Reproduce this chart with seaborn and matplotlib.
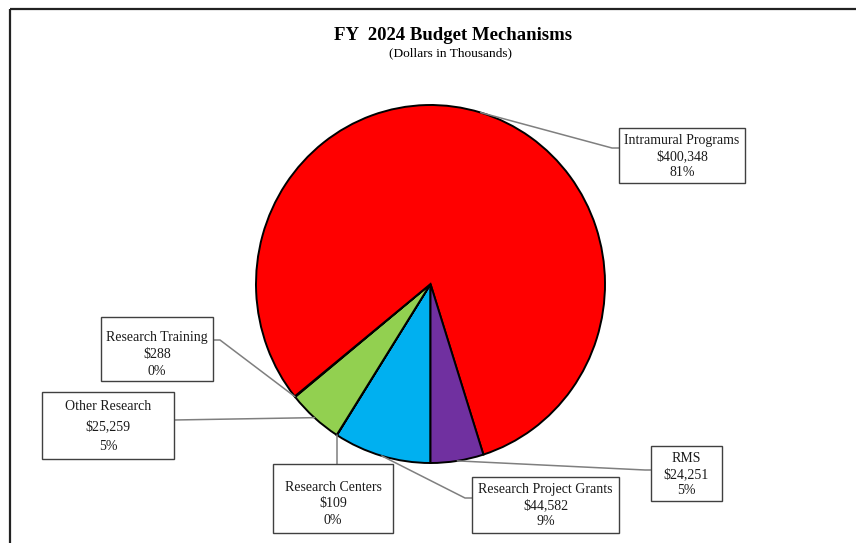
import numpy as np
import matplotlib
matplotlib.use("Agg")
import matplotlib.pyplot as plt
import seaborn as sns

# ---- data ----
categories = ["Research Project Grants", "Research Centers", "Other Research",
              "Research Training", "Intramural Programs", "RMS"]
values = [44582, 109, 25259, 288, 400348, 24251]
value_labels = ["$44,582", "$109", "$25,259", "$288", "$400,348", "$24,251"]
pct_labels = ["9%", "0%", "5%", "0%", "81%", "5%"]
colors = ["#00B0F0", "#FFFFFF", "#92D050", "#FFFFFF", "#FF0000", "#7030A0"]

sns.set_theme(style="white")
plt.rcParams['font.family'] = ['Liberation Serif', 'DejaVu Serif']

W, H = 856, 543
K = 179.0 / 174.5          # slight vertical stretch of the pie (as in the reference)
fig = plt.figure(figsize=(W / 100, H / 100), dpi=100)
ax = fig.add_axes([0, 0, 1, 1])

def Y(y):
    return (H - y) / K

cx, cy, R = 430.5, 284, 174.5
wedges, _ = ax.pie(values, colors=colors, startangle=270, counterclock=False,
                   center=(cx, Y(cy)), radius=R, frame=True,
                   wedgeprops=dict(edgecolor="black", linewidth=1.4))
ax.set_xlim(0, W)
ax.set_ylim(0, H / K)
ax.set_aspect("auto")
ax.axis("off")

# frame lines
ax.plot([10, 10], [Y(8.5), Y(543)], color="#222222", lw=1.6, solid_capstyle="butt")
ax.plot([10, 856], [Y(8.5), Y(8.5)], color="#222222", lw=1.6, solid_capstyle="butt")

# title
ax.text(453, Y(36), "FY  2024 Budget Mechanisms", ha="center", va="center",
        fontsize=13.5, fontweight="bold", color="black")
ax.text(451, Y(53), "(Dollars in Thousands)", ha="center", va="center",
        fontsize=9.6, color="black")

# boxes: (x0, y0, x1, y1) in pixel coords, leader path, text centre y, line spacing
boxes = {
    "Intramural Programs": ((619, 128, 745, 183), [(612, 148), (619, 148)], 156.5, 1.3),
    "Research Training": ((101, 317, 213, 381), [(220, 340), (213, 340)], 354.5, 1.38),
    "Other Research": ((42, 392, 174, 459), [(174, 420)], 427, 1.7),
    "Research Centers": ((273, 464, 393, 533), None, 504, 1.34),
    "Research Project Grants": ((472, 477, 619, 533), [(465, 498), (472, 498)], 505.5, 1.26),
    "RMS": ((651, 446, 722, 501), [(645, 470), (651, 470)], 475, 1.3),
}

for w, cat, vl, pl in zip(wedges, categories, value_labels, pct_labels):
    mid = np.deg2rad((w.theta1 + w.theta2) / 2)
    ex = w.center[0] + R * np.cos(mid)
    ey = w.center[1] + R * np.sin(mid)
    (x0, y0, x1, y1), path, ty, ls = boxes[cat]
    if path is None:
        path = [(ex, y0)]
    xs = [ex] + [p[0] for p in path]
    ys = [ey] + [Y(p[1]) for p in path]
    ax.plot(xs, ys, color="#7F7F7F", lw=1.1, zorder=1)
    ax.add_patch(plt.Rectangle((x0, Y(y1)), x1 - x0, Y(y0) - Y(y1), facecolor="white",
                               edgecolor="#404040", lw=1.0, zorder=3))
    ax.text((x0 + x1) / 2, Y(ty), f"{cat}\n{vl}\n{pl}", ha="center",
            va="center", fontsize=10, linespacing=ls, color="#1a1a1a", zorder=4)

fig.savefig("out.png", dpi=100)
